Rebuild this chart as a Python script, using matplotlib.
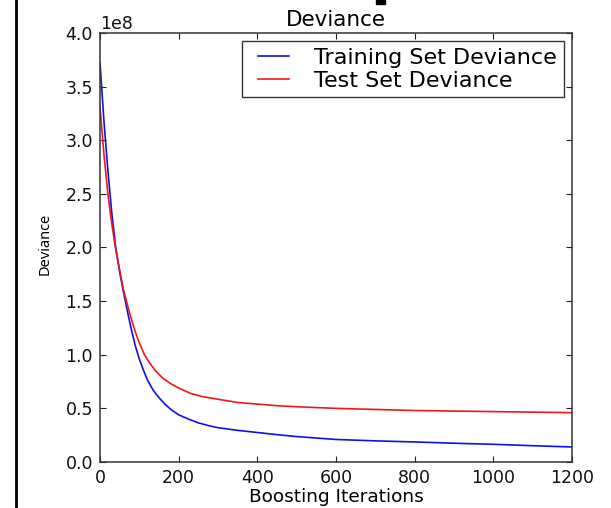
import matplotlib
matplotlib.use("Agg")
import matplotlib.pyplot as plt
from matplotlib.lines import Line2D
from matplotlib.patches import Rectangle
from matplotlib.legend_handler import HandlerLine2D

train_iters = [0, 10, 20, 30, 40, 50, 60, 70, 80, 90, 100, 110, 120, 135, 150, 165, 180,
               200, 225, 250, 275, 300, 350, 400, 450, 500, 600, 700, 800, 900, 1000,
               1100, 1200]
train_dev = [3.72, 3.18, 2.72, 2.32, 2.00, 1.77, 1.58, 1.40, 1.23, 1.08, 0.96, 0.86,
             0.77, 0.67, 0.60, 0.54, 0.49, 0.44, 0.40, 0.365, 0.34, 0.32, 0.295, 0.275,
             0.255, 0.237, 0.21, 0.197, 0.187, 0.175, 0.165, 0.152, 0.14]
test_iters = [0, 10, 20, 30, 40, 50, 60, 70, 80, 90, 100, 113, 125, 140, 160, 180, 200,
              230, 260, 300, 350, 400, 450, 500, 600, 700, 800, 900, 1000, 1100, 1200]
test_dev = [3.31, 2.87, 2.50, 2.22, 1.98, 1.79, 1.60, 1.46, 1.33, 1.21, 1.11, 1.00,
            0.93, 0.855, 0.78, 0.73, 0.69, 0.64, 0.61, 0.585, 0.555, 0.54, 0.525, 0.515,
            0.50, 0.49, 0.48, 0.475, 0.47, 0.465, 0.46]
scale = 1e8
xticks = [0, 200, 400, 600, 800, 1000, 1200]
yticks = [0.0, 0.5, 1.0, 1.5, 2.0, 2.5, 3.0, 3.5, 4.0]

fig = plt.figure(figsize=(6.11, 5.08), dpi=100)
ax = fig.add_axes([100/611, 46/508, 472/611, 429/508])

ax.plot(train_iters, [v*scale for v in train_dev], color="#1010e8", lw=1.2,
        label="Training Set Deviance")
ax.plot(test_iters, [v*scale for v in test_dev], color="#ea1a1a", lw=1.2,
        label="Test Set Deviance")

ax.set_xlim(0, 1200)
ax.set_ylim(0, 4e8)
ax.set_xticks(xticks)
ax.set_yticks([t*scale for t in yticks])
ax.tick_params(direction="in", top=True, right=True, labelsize=12.5, length=4.5,
               width=0.8, pad=5, colors="#222222", labelcolor="#111111")
for s in ax.spines.values():
    s.set_linewidth(1.1)
    s.set_color("#333333")
ax.yaxis.get_offset_text().set_fontsize(12.5)

ax.set_title("Deviance", fontsize=15.5, pad=5)
ax.set_xlabel("Boosting Iterations", fontsize=13.3, labelpad=1)
ax.set_ylabel("Deviance", fontsize=10.5, family="Noto Sans")
ax.yaxis.set_label_coords(-0.1, 0.508)
leg = ax.legend(loc="upper right", fontsize=16, fancybox=False, framealpha=1,
                edgecolor="#333333", handlelength=1.82, handletextpad=1.13,
                borderpad=0.3, labelspacing=0.12, borderaxespad=0.38,
                handler_map={Line2D: HandlerLine2D(xpad=0.42)})
leg.get_frame().set_linewidth(1.0)

fig.add_artist(Line2D([16/611, 16/611], [0, 1], color="black", lw=2, transform=fig.transFigure))
fig.add_artist(Rectangle((376/611, 1 - 4/508), 9/611, 4/508, color="black",
                         transform=fig.transFigure))

fig.savefig("out.png", dpi=100)
